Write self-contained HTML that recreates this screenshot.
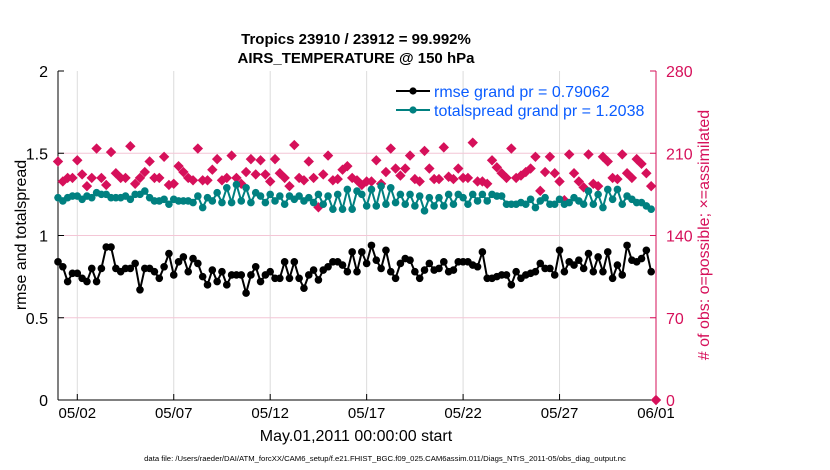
<!DOCTYPE html>
<html><head><meta charset="utf-8">
<style>
html,body{margin:0;padding:0;background:#fff;}
svg{display:block;font-family:"Liberation Sans",Arial,sans-serif;}
</style></head>
<body>
<svg id="chart" width="830" height="470" viewBox="0 0 830 470" xmlns="http://www.w3.org/2000/svg">
<text x="356" y="44" text-anchor="middle" font-size="15" font-weight="bold">Tropics 23910 / 23912 = 99.992%</text>
<text x="356" y="63" text-anchor="middle" font-size="15" font-weight="bold">AIRS_TEMPERATURE @ 150 hPa</text>
<g id="grid"></g>
<g id="axes"></g>
<g id="series"></g>
<text transform="translate(26,235) rotate(-90)" text-anchor="middle" font-size="16">rmse and totalspread</text>
<text transform="translate(709,235) rotate(-90)" text-anchor="middle" font-size="16" fill="#d6105a"># of obs: o=possible; ×=assimilated</text>
<text x="356" y="441" text-anchor="middle" font-size="16">May.01,2011 00:00:00 start</text>
<text x="385" y="461" text-anchor="middle" font-size="7.7">data file: /Users/raeder/DAI/ATM_forcXX/CAM6_setup/f.e21.FHIST_BGC.f09_025.CAM6assim.011/Diags_NTrS_2011-05/obs_diag_output.nc</text>
<g id="legend">
  <line x1="396" y1="91" x2="430" y2="91" stroke="#000" stroke-width="2"/>
  <circle cx="413" cy="91" r="3.6" fill="#000"/>
  <text x="434" y="97" font-size="16" fill="#0a5cff">rmse grand pr = 0.79062</text>
  <line x1="396" y1="110" x2="430" y2="110" stroke="#008080" stroke-width="2"/>
  <circle cx="413" cy="110" r="3.6" fill="#008080"/>
  <text x="434" y="116" font-size="16" fill="#0a5cff">totalspread grand pr = 1.2038</text>
</g>
</svg>
<script>
const rmse = [0.84,0.81,0.72,0.77,0.77,0.74,0.72,0.80,0.72,0.80,0.93,0.93,0.80,0.78,0.80,0.80,0.83,0.67,0.80,0.80,0.78,
0.74,0.81,0.89,0.76,0.84,0.87,0.78,0.86,0.83,0.75,0.70,0.79,0.72,0.78,0.70,0.76,0.76,0.76,0.65,0.76,0.81,
0.72,0.76,0.78,0.74,0.74,0.84,0.74,0.84,0.74,0.68,0.76,0.79,0.73,0.79,0.81,0.84,0.84,0.82,0.78,0.90,0.78,
0.90,0.83,0.94,0.85,0.80,0.91,0.78,0.74,0.83,0.86,0.85,0.78,0.74,0.79,0.83,0.79,0.80,0.84,0.78,0.79,
0.84,0.84,0.84,0.82,0.81,0.90,0.74,0.74,0.75,0.76,0.76,0.70,0.78,0.74,0.76,0.77,0.78,0.83,0.80,0.80,0.76,
0.91,0.78,0.84,0.82,0.85,0.80,0.89,0.78,0.87,0.78,0.90,0.74,0.82,0.76,0.94,0.85,0.84,0.86,0.91,0.78];
const totalspread = [1.23,1.21,1.23,1.24,1.24,1.22,1.24,1.23,1.26,1.25,1.25,1.23,1.23,1.23,1.24,1.22,1.25,1.25,1.27,1.23,1.21,
1.21,1.22,1.19,1.22,1.21,1.21,1.21,1.20,1.24,1.17,1.23,1.21,1.26,1.20,1.29,1.20,1.31,1.21,1.29,1.20,1.26,
1.24,1.20,1.25,1.21,1.24,1.19,1.24,1.22,1.24,1.21,1.23,1.20,1.25,1.19,1.24,1.16,1.25,1.16,1.28,1.16,1.27,
1.25,1.18,1.28,1.18,1.30,1.19,1.29,1.20,1.25,1.19,1.25,1.18,1.24,1.15,1.23,1.18,1.23,1.18,1.25,1.19,
1.25,1.23,1.19,1.25,1.21,1.25,1.21,1.25,1.24,1.24,1.19,1.19,1.19,1.20,1.19,1.22,1.17,1.21,1.23,1.19,1.19,
1.22,1.19,1.20,1.23,1.21,1.19,1.27,1.19,1.25,1.17,1.28,1.22,1.28,1.19,1.24,1.22,1.20,1.20,1.18,1.16];
const nobs = [203,186,189,189,204,192,182,189,214,189,183,211,193,189,189,216,184,189,194,203,189,
189,207,183,184,199,194,189,187,214,187,187,196,205,187,189,208,189,184,194,205,192,
204,192,186,205,193,189,182,217,189,187,203,189,164,192,208,187,188,196,199,189,187,
183,186,186,204,184,194,214,197,191,197,208,188,186,212,197,188,188,215,190,188,
197,189,189,219,186,186,184,204,198,193,189,214,189,191,194,197,207,178,194,207,193,
186,170,209,193,186,181,209,184,182,207,203,189,188,209,193,189,205,201,193,182,0];
const xTickDays = [1,6,11,16,21,26,31];
const xTickLabels = ["05/02","05/07","05/12","05/17","05/22","05/27","06/01"];
const yLeftTicks = [0,0.5,1,1.5,2];
const yLeftLabels = ["0","0.5","1","1.5","2"];
const yRightTicks = [0,70,140,210,280];
const stepDays = 0.25;

const NS="http://www.w3.org/2000/svg";
const L=58,R=656,T=71,B=400;
const xS=d=>L+d/31*(R-L);
const yL=v=>B-v/2*(B-T);
const yR=v=>B-v/280*(B-T);
function mk(tag,attrs,parent){const e=document.createElementNS(NS,tag);for(const k in attrs)e.setAttribute(k,attrs[k]);parent.appendChild(e);return e;}
const grid=document.getElementById('grid'),axes=document.getElementById('axes'),ser=document.getElementById('series');

xTickDays.forEach((d,i)=>{
  const g=mk('line',{x1:xS(d),x2:xS(d),y1:T,y2:B,stroke:'#dcdcdc','stroke-width':1},grid);
  
  
  mk('line',{x1:xS(d),x2:xS(d),y1:B,y2:B-6,stroke:'#000','stroke-width':1},axes);
  const t=mk('text',{x:xS(d),y:418,'text-anchor':'middle','font-size':'15'},axes);
  t.textContent=xTickLabels[i];
  
  
});
yLeftTicks.forEach((v,i)=>{
  if(v>0&&v<2){const g=mk('line',{x1:L,x2:R,y1:yL(v),y2:yL(v),stroke:'#f4c6d6','stroke-width':1},grid);
  
  }
  mk('line',{x1:L,x2:L+6,y1:yL(v),y2:yL(v),stroke:'#000'},axes);
  const t=mk('text',{x:L-10,y:yL(v)+6,'text-anchor':'end','font-size':'16'},axes);
  t.textContent=yLeftLabels[i];
  
  
});
yRightTicks.forEach(v=>{
  mk('line',{x1:R-6,x2:R,y1:yR(v),y2:yR(v),stroke:'#d6105a'},axes);
  const t=mk('text',{x:R+10,y:yR(v)+6,'font-size':'16',fill:'#d6105a'},axes);
  t.textContent=String(v);
  
  
});
const la=mk('line',{x1:L,x2:L,y1:T,y2:B,stroke:'#000'},axes);


const ba=mk('line',{x1:L,x2:R,y1:B,y2:B,stroke:'#000'},axes);


const ra=mk('line',{x1:R,x2:R,y1:T,y2:B,stroke:'#d6105a'},axes);



nobs.forEach((v,i)=>{
  const x=xS(i*stepDays),y=yR(v),s=5.2;
  const p=mk('polygon',{points:`${x},${y-s} ${x+s},${y} ${x},${y+s} ${x-s},${y}`,fill:'#d6105a'},ser);
  
  
});
function line(arr,col,name){
  const pts=arr.map((v,i)=>`${xS(i*stepDays)},${yL(v)}`).join(' ');
  const pl=mk('polyline',{points:pts,fill:'none',stroke:col,'stroke-width':2},ser);
  
  
  arr.forEach((v,i)=>{
    const c=mk('circle',{cx:xS(i*stepDays),cy:yL(v),r:3.8,fill:col},ser);
    
    
  });
}
line(totalspread,'#008080','totalspread');
line(rmse,'#000','rmse');
</script>
</body></html>
